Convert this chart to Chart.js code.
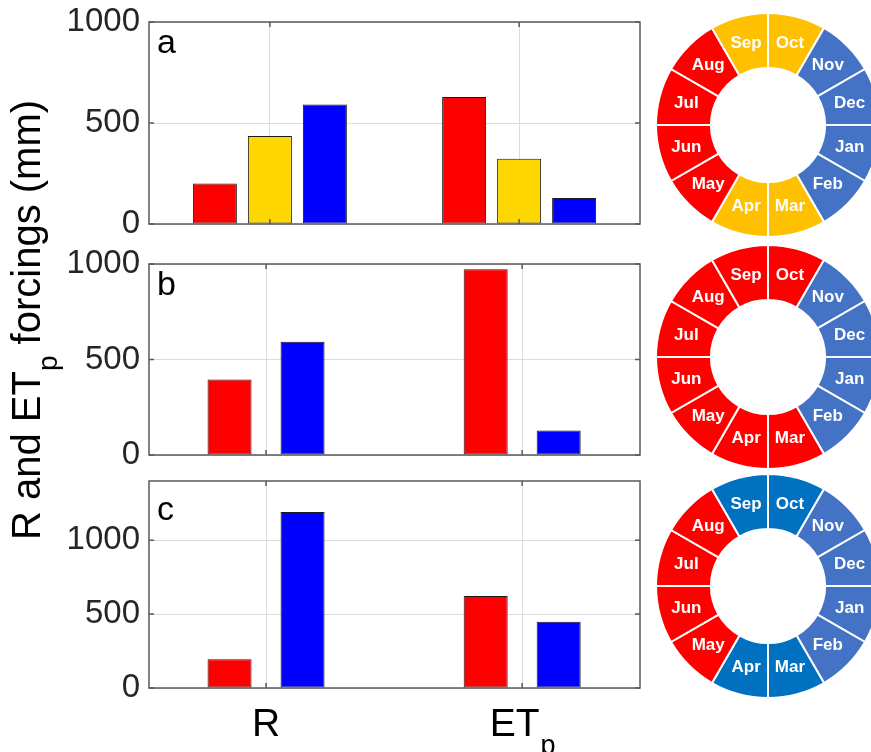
<!DOCTYPE html>
<html>
<head>
<meta charset="UTF-8">
<title>R and ETp forcings</title>
<script src="https://cdn.jsdelivr.net/npm/chart.js"></script>
<style>
  body {
    margin: 0;
    background: #fff;
    width: 871px;
    height: 752px;
    overflow: hidden;
    position: relative;
    font-family: 'Liberation Sans', Arial, sans-serif;
  }
  canvas { position: absolute; }
  #ytitle {
    position: absolute;
    left: -274px;
    top: 300px;
    width: 600px;
    height: 40px;
    line-height: 40px;
    font-size: 40px;
    text-align: center;
    white-space: nowrap;
    color: #000;
    transform: rotate(-90deg);
  }
  #ytitle span { font-size: 28px; position: relative; top: 17px; }
</style>
</head>
<body>
  <canvas id="barA" width="645" height="240" style="left:0;top:0"></canvas>
  <canvas id="barB" width="645" height="235" style="left:0;top:240px"></canvas>
  <canvas id="barC" width="645" height="282" style="left:0;top:470px"></canvas>
  <canvas id="ringA" width="226" height="226" style="left:655px;top:12px"></canvas>
  <canvas id="ringB" width="226" height="226" style="left:655px;top:244px"></canvas>
  <canvas id="ringC" width="226" height="226" style="left:655px;top:473px"></canvas>
  <div id="ytitle">R and ET<span>p</span> forcings (mm)</div>

  <script>
    // categories on the x axis (drawn at positions 1 and 2)
    const categories = ['R', 'ETp'];

    // panel a: three seasons
    const aRed = [200, 629];
    const aYellow = [436, 323];
    const aBlue = [591, 129];
    // panel b: two seasons
    const bRed = [395, 972];
    const bBlue = [593, 128];
    // panel c: two seasons
    const cRed = [194, 622];
    const cBlue = [1191, 448];

    const yMaxAB = 1000;
    const yMaxC = 1400;
    const yTicksAB = [0, 500, 1000];
    const yTicksC = [0, 500, 1000];

    // month rings, clockwise from the top
    const months = ['Oct', 'Nov', 'Dec', 'Jan', 'Feb', 'Mar', 'Apr', 'May', 'Jun', 'Jul', 'Aug', 'Sep'];
    const monthShare = [1, 1, 1, 1, 1, 1, 1, 1, 1, 1, 1, 1];
    const ringA = ['Y', 'B', 'B', 'B', 'B', 'Y', 'Y', 'R', 'R', 'R', 'R', 'Y'];
    const ringB = ['R', 'B', 'B', 'B', 'B', 'R', 'R', 'R', 'R', 'R', 'R', 'R'];
    const ringC = ['D', 'B', 'B', 'B', 'B', 'D', 'D', 'R', 'R', 'R', 'R', 'D'];

    const FONT = "'Liberation Sans', Arial, sans-serif";
    const ringColors = { R: '#ff0000', Y: '#ffc000', B: '#4472c4', D: '#0070c0' };
    const GRID = '#dcdcdc';
    const AXIS = '#5a5a5a';

    function toPoints(vals) {
      return vals.map((v, i) => ({ x: i + 1, y: v }));
    }

    // box round the plot, inward ticks and the panel letter
    const frame = {
      id: 'frame',
      afterDraw(chart, args, opts) {
        const { ctx, chartArea: a, scales: { x, y } } = chart;
        ctx.save();
        ctx.strokeStyle = AXIS;
        ctx.lineWidth = 1.5;
        ctx.strokeRect(a.left, a.top, a.right - a.left, a.bottom - a.top);
        ctx.beginPath();
        y.ticks.forEach((t, i) => {
          const py = y.getPixelForTick(i);
          ctx.moveTo(a.left, py); ctx.lineTo(a.left + 5, py);
          ctx.moveTo(a.right, py); ctx.lineTo(a.right - 5, py);
        });
        x.ticks.forEach((t, i) => {
          const px = x.getPixelForTick(i);
          ctx.moveTo(px, a.top); ctx.lineTo(px, a.top + 5);
          ctx.moveTo(px, a.bottom); ctx.lineTo(px, a.bottom - 5);
        });
        ctx.stroke();
        ctx.fillStyle = '#000';
        ctx.font = '34px ' + FONT;
        ctx.textAlign = 'left';
        ctx.textBaseline = 'alphabetic';
        ctx.fillText(opts.letter, a.left + 8, a.top + opts.letterDy);
        ctx.restore();
      }
    };

    // category labels with subscript, bottom panel only
    const xLabels = {
      id: 'xLabels',
      afterDraw(chart, args, opts) {
        if (!opts.show) return;
        const { ctx, scales: { x } } = chart;
        ctx.save();
        ctx.fillStyle = '#000';
        ctx.textBaseline = 'alphabetic';
        ctx.textAlign = 'left';
        categories.forEach((lab, i) => {
          const px = x.getPixelForValue(i + 1);
          const main = lab === 'ETp' ? 'ET' : lab;
          const sub = lab === 'ETp' ? 'p' : '';
          ctx.font = '39px ' + FONT;
          const w1 = ctx.measureText(main).width;
          ctx.font = '27px ' + FONT;
          const w2 = sub ? ctx.measureText(sub).width : 0;
          const sx = px - (w1 + w2) / 2;
          ctx.font = '39px ' + FONT;
          ctx.fillText(main, sx, opts.baseline);
          if (sub) {
            ctx.font = '27px ' + FONT;
            ctx.fillText(sub, sx + w1 + 1, opts.baseline + 18);
          }
        });
        ctx.restore();
      }
    };

    function barSet(vals, color, cp, bp) {
      return {
        data: toPoints(vals),
        backgroundColor: color,
        borderColor: '#1a1a1a',
        borderWidth: 1,
        borderSkipped: false,
        categoryPercentage: cp,
        barPercentage: bp
      };
    }

    function makeBars(id, datasets, cfg) {
      new Chart(document.getElementById(id), {
        type: 'bar',
        data: { datasets: datasets },
        options: {
          responsive: false,
          animation: false,
          layout: { padding: { top: cfg.padTop, right: 5, bottom: cfg.padBottom, left: 0 } },
          plugins: {
            legend: { display: false },
            tooltip: { enabled: false },
            frame: { letter: cfg.letter, letterDy: cfg.letterDy },
            xLabels: { show: cfg.showX, baseline: cfg.labelBase }
          },
          scales: {
            x: {
              type: 'linear',
              min: cfg.xMin,
              max: cfg.xMax,
              offset: false,
              ticks: { display: false },
              afterBuildTicks(s) { s.ticks = categories.map((c, i) => ({ value: i + 1 })); },
              grid: { color: GRID, drawTicks: false, offset: false },
              border: { display: false },
              afterFit(s) {
                s.height = cfg.xHeight;
                s.paddingLeft = 0; s.paddingRight = 0;
              }
            },
            y: {
              min: 0,
              max: cfg.yMax,
              afterBuildTicks(s) { s.ticks = cfg.yTicks.map(v => ({ value: v })); },
              ticks: {
                callback: v => String(v),
                color: '#262626',
                font: { size: 33, family: FONT },
                padding: 9
              },
              grid: { color: GRID, drawTicks: false },
              border: { display: false },
              afterFit(s) {
                s.width = 149;
                s.paddingTop = 0; s.paddingBottom = 0;
              }
            }
          }
        },
        plugins: [frame, xLabels]
      });
    }

    makeBars('barA', [
      barSet(aRed, '#ff0000', 0.662, 0.8),
      barSet(aYellow, '#ffd700', 0.662, 0.8),
      barSet(aBlue, '#0000ff', 0.662, 0.8)
    ], { padTop: 22, padBottom: 16, xHeight: 0, xMin: 0.515, xMax: 2.485, yMax: yMaxAB, yTicks: yTicksAB,
         letter: 'a', letterDy: 31, showX: false });

    makeBars('barB', [
      barSet(bRed, '#ff0000', 0.57, 0.603),
      barSet(bBlue, '#0000ff', 0.57, 0.603)
    ], { padTop: 24, padBottom: 20, xHeight: 0, xMin: 0.543, xMax: 2.46, yMax: yMaxAB, yTicks: yTicksAB,
         letter: 'b', letterDy: 31, showX: false });

    makeBars('barC', [
      barSet(cRed, '#ff0000', 0.57, 0.603),
      barSet(cBlue, '#0000ff', 0.57, 0.603)
    ], { padTop: 11, padBottom: 0, xHeight: 64, xMin: 0.543, xMax: 2.46, yMax: yMaxC, yTicks: yTicksC,
         letter: 'c', letterDy: 39, showX: true, labelBase: 266 });

    // white month names in the middle of each slice
    const monthLabels = {
      id: 'monthLabels',
      afterDatasetsDraw(chart) {
        const { ctx } = chart;
        const meta = chart.getDatasetMeta(0);
        ctx.save();
        ctx.fillStyle = '#fff';
        ctx.font = 'bold 17px ' + FONT;
        ctx.textAlign = 'center';
        ctx.textBaseline = 'middle';
        meta.data.forEach((arc, i) => {
          const p = arc.tooltipPosition();
          ctx.fillText(months[i], p.x, p.y);
        });
        ctx.restore();
      }
    };

    function makeRing(id, classes) {
      new Chart(document.getElementById(id), {
        type: 'doughnut',
        data: {
          labels: months,
          datasets: [{
            data: monthShare,
            backgroundColor: classes.map(c => ringColors[c]),
            borderColor: '#ffffff',
            borderWidth: 2
          }]
        },
        options: {
          responsive: false,
          animation: false,
          cutout: '51%',
          plugins: { legend: { display: false }, tooltip: { enabled: false } }
        },
        plugins: [monthLabels]
      });
    }

    makeRing('ringA', ringA);
    makeRing('ringB', ringB);
    makeRing('ringC', ringC);
  </script>
</body>
</html>
